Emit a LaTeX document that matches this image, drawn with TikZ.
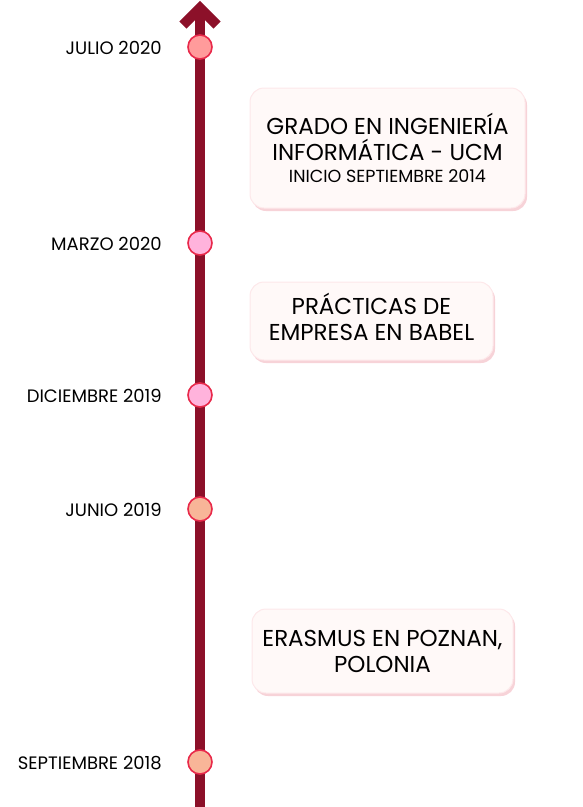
\documentclass[tikz,border=0pt]{standalone}
\usepackage{fontspec}
\setmainfont{Poppins}
\usetikzlibrary{shadows}

\definecolor{lineRed}{HTML}{8C1029}
\definecolor{ringRed}{HTML}{E8294A}
\definecolor{dotSalmon}{HTML}{FF9B9B}
\definecolor{dotPink}{HTML}{FFB3DC}
\definecolor{dotPeach}{HTML}{F8B598}
\definecolor{boxFill}{HTML}{FFF9F8}
\definecolor{boxEdge}{HTML}{FDE8EA}
\definecolor{boxShadow}{HTML}{F7D3D8}

\tikzset{
    hito/.style={circle, draw=ringRed, line width=1.6pt, minimum size=24pt, inner sep=0pt},
    fecha/.style={anchor=east, inner sep=0pt, font=\fontsize{18}{20}\selectfont},
    caja/.style={rounded corners=14pt, draw=boxEdge, fill=boxFill, line width=1pt,
        drop shadow={shadow xshift=2pt, shadow yshift=-3pt, fill=boxShadow, opacity=1},
        align=center, inner sep=0pt, font=\fontsize{23}{26}\selectfont},
}

\begin{document}
\begin{tikzpicture}[x=1pt,y=-1pt]
    \useasboundingbox (0,0) rectangle (583,807);

    % eje del tiempo
    \coordinate (base) at (200,807);
    \coordinate (tip) at (200,8);
    \draw[lineRed, line width=10pt] (base) -- (tip);
    \draw[lineRed, line width=10pt, miter limit=4] (tip) ++(-17,17) -- (tip) -- ++(17,17);

    % hitos
    \foreach \nombre/\y/\color/\texto in {
        h1/47/dotSalmon/JULIO 2020,
        h2/243/dotPink/MARZO 2020,
        h3/395/dotPink/DICIEMBRE 2019,
        h4/509/dotPeach/JUNIO 2019,
        h5/762/dotPeach/SEPTIEMBRE 2018}{
        \node[hito, fill=\color] (\nombre) at (200,\y) {};
        \node[fecha] (f\nombre) at (162,\y+1) {\texto};
    }

    % cajas
    \node[caja, minimum width=275pt, minimum height=120pt] (grado) at (387.5,148)
        {GRADO EN INGENIERÍA\\INFORMÁTICA - UCM\\[-4pt]
        {\fontsize{17.5}{19}\selectfont INICIO SEPTIEMBRE 2014}};
    \node[caja, minimum width=243pt, minimum height=78pt, text depth=8pt] (practicas) at (371.5,321)
        {PRÁCTICAS DE\\EMPRESA EN BABEL};
    \node[caja, minimum width=261pt, minimum height=84pt] (erasmus) at (382.5,651)
        {ERASMUS EN POZNAN,\\POLONIA};
\end{tikzpicture}
\end{document}
